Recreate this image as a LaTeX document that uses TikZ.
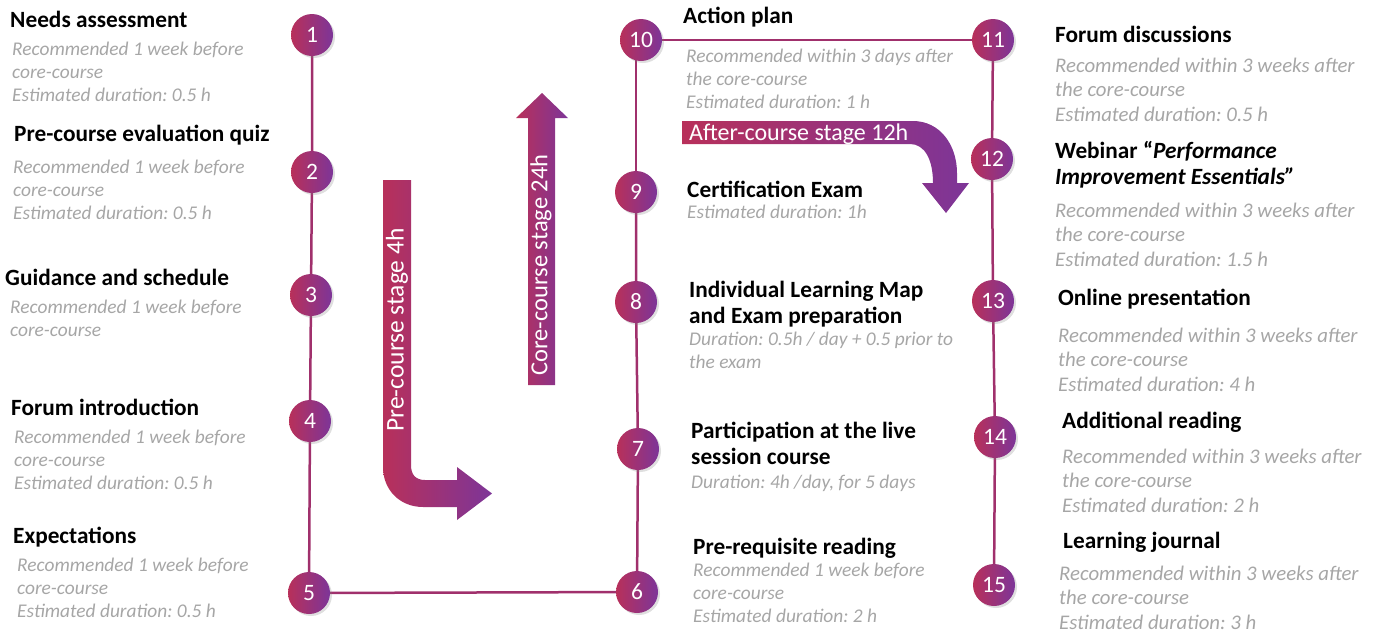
\documentclass[tikz,border=0pt]{standalone}
\usepackage{fontspec}
\setmainfont{Carlito}
\frenchspacing
\usetikzlibrary{shadows,backgrounds}
\definecolor{crim}{HTML}{B8305A}
\definecolor{purp}{HTML}{7D3598}
\definecolor{linec}{HTML}{A0306C}
\definecolor{txtgray}{HTML}{A6A6A6}
\tikzset{
  stepcircle/.style={circle, minimum size=42pt, inner sep=0pt, left color=crim, right color=purp,
    text=white, font=\fontsize{23.5}{23.5}\selectfont,
    drop shadow={opacity=0.25, shadow xshift=2pt, shadow yshift=-2pt}},
  title/.style={anchor=base west, inner sep=0pt, font=\bfseries\fontsize{23.3}{26.5}\selectfont, align=left},
  info/.style={anchor=base west, inner sep=0pt, text=txtgray, font=\itshape\fontsize{19.4}{23.3}\selectfont, align=left},
  infor/.style={info, font=\itshape\fontsize{20.8}{24.5}\selectfont},
  conn/.style={draw=linec, line width=2.5pt},
  band/.style={left color=crim, right color=purp},
  bandtext/.style={text=white, font=\fontsize{24}{24}\selectfont, inner sep=0pt}
}
\begin{document}
\begin{tikzpicture}[x=1pt,y=-1pt]
\useasboundingbox (0,0) rectangle (1377,633);
% circles
\node[stepcircle] (n1) at (312,35) {1};
\node[stepcircle] (n2) at (312,172) {2};
\node[stepcircle] (n3) at (311,295) {3};
\node[stepcircle] (n4) at (310,421) {4};
\node[stepcircle] (n5) at (309,593) {5};
\node[stepcircle] (n6) at (637,592) {6};
\node[stepcircle] (n7) at (638,449) {7};
\node[stepcircle] (n8) at (636,302) {8};
\node[stepcircle] (n9) at (636,192) {9};
\node[stepcircle] (n10) at (641,40) {10};
\node[stepcircle] (n11) at (993,40) {11};
\node[stepcircle] (n12) at (992,159) {12};
\node[stepcircle] (n13) at (993,301) {13};
\node[stepcircle] (n14) at (995,437) {14};
\node[stepcircle] (n15) at (994,585) {15};
% connectors
\begin{scope}[on background layer]
\draw[conn] (n1) -- (n2) -- (n3) -- (n4) -- (n5);
\draw[conn] (n5) -- (n6);
\draw[conn] (n6) -- (n7) -- (n8) -- (n9);
\draw[conn] (n9) -- (n9 |- n10);
\draw[conn] (n10) -- (n11);
\draw[conn] (n11) -- (n12) -- (n13) -- (n14) -- (n15);
\end{scope}
% stage arrows
\shade[band] (383,180) -- (411,180) -- (411,465) .. controls (411,474) and (415,480) .. (425,480)
  -- (457,480) -- (457,467) -- (492,493.5) -- (457,520) -- (457,507) -- (423,507)
  .. controls (400,507) and (383,490) .. (383,467) -- cycle;
\node[bandtext, rotate=90, font=\fontsize{25.5}{25.5}\selectfont] (pre) at (397,330) {Pre-course stage 4h};
\shade[band] (528,385) -- (528,118) -- (516,118) -- (542,93) -- (568,118) -- (555,118) -- (555,385) -- cycle;
\node[bandtext, rotate=90, font=\fontsize{24.5}{24.5}\selectfont] (core) at (541,265) {Core-course stage 24h};
\shade[band] (682,121) -- (913,121) .. controls (940,121) and (957,145) .. (957,173) -- (957,183)
  -- (969,183) -- (946,213) -- (922,183) -- (933,183) .. controls (933,160) and (925,144) .. (910,144)
  -- (682,144) -- cycle;
\node[bandtext, anchor=base west] (after) at (689,140) {After-course stage 12h};
% left column texts (base anchor = baseline of last line)
\node[title] (t1) at (10,27) {Needs assessment};
\node[info] (i1) at (12,101.6) {Recommended 1 week before\\core-course\\Estimated duration: 0.5 h};
\node[title] (t2) at (14,141) {Pre-course evaluation quiz};
\node[info] (i2) at (13,219.6) {Recommended 1 week before\\core-course\\Estimated duration: 0.5 h};
\node[title] (t3) at (5,285) {Guidance and schedule};
\node[info] (i3) at (10,336.3) {Recommended 1 week before\\core-course};
\node[title] (t4) at (11,415) {Forum introduction};
\node[info] (i4) at (14,489.6) {Recommended 1 week before\\core-course\\Estimated duration: 0.5 h};
\node[title] (t5) at (13,543) {Expectations};
\node[info] (i5) at (17,617.6) {Recommended 1 week before\\core-course\\Estimated duration: 0.5 h};
% middle column texts
\node[title] (t6) at (693,554) {Pre-requisite reading};
\node[info] (i6) at (693,622.6) {Recommended 1 week before\\core-course\\Estimated duration: 2 h};
\node[title] (t7) at (691,464.5) {Participation at the live\\session course};
\node[info] (i7) at (691,488) {Duration: 4h /day, for 5 days};
\node[title] (t8) at (689,323.5) {Individual Learning Map\\and Exam preparation};
\node[info] (i8) at (689,368.3) {Duration: 0.5h / day + 0.5 prior to\\the exam};
\node[title] (t9) at (687,197) {Certification Exam};
\node[info] (i9) at (687,218) {Estimated duration: 1h};
\node[title] (t10) at (683,23) {Action plan};
\node[info] (i10) at (686,108.6) {Recommended within 3 days after\\the core-course\\Estimated duration: 1 h};
% right column texts
\node[title] (t11) at (1055,42) {Forum discussions};
\node[infor] (i11) at (1055,121) {Recommended within 3 weeks after\\the core-course\\Estimated duration: 0.5 h};
\node[title] (t12) at (1055,184.5) {Webinar “\textit{Performance}\\\textit{Improvement Essentials”}};
\node[infor] (i12) at (1055,266) {Recommended within 3 weeks after\\the core-course\\Estimated duration: 1.5 h};
\node[title] (t13) at (1058,305) {Online presentation};
\node[infor] (i13) at (1058,391) {Recommended within 3 weeks after\\the core-course\\Estimated duration: 4 h};
\node[title] (t14) at (1062,428) {Additional reading};
\node[infor] (i14) at (1062,512) {Recommended within 3 weeks after\\the core-course\\Estimated duration: 2 h};
\node[title] (t15) at (1063,548) {Learning journal};
\node[infor] (i15) at (1059,629) {Recommended within 3 weeks after\\the core-course\\Estimated duration: 3 h};
\end{tikzpicture}
\end{document}
